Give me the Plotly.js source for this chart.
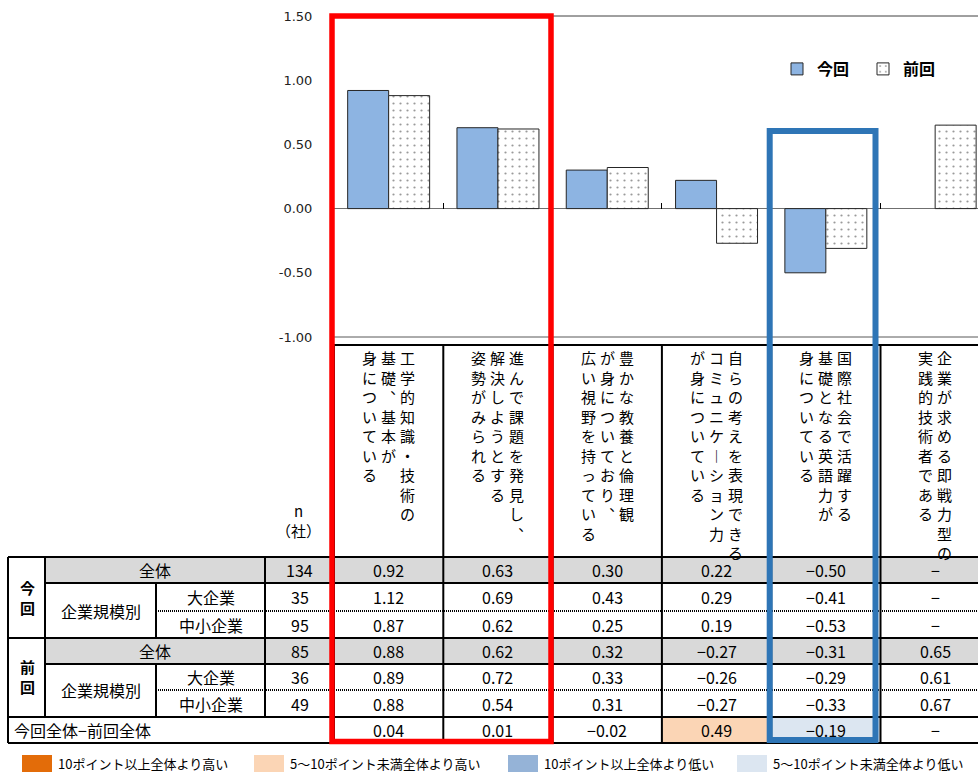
<!DOCTYPE html>
<html><head><meta charset="utf-8">
<script src="https://cdn.plot.ly/plotly-3.0.1.min.js"></script>
<style>html,body{margin:0;padding:0;background:#fff}</style>
</head><body><div id="chart" style="width:978px;height:774px"></div>
<script>
// ---------- data ----------
const categoryLines = [
  ["工学的知識・技術の","基礎、基本が","身についている"],
  ["進んで課題を発見し、","解決しようとする","姿勢がみられる"],
  ["豊かな教養と倫理観","が身についており、","広い視野を持っている"],
  ["自らの考えを表現できる","コミュニケーション力","が身についている"],
  ["国際社会で活躍する","基礎となる英語力が","身についている"],
  ["企業が求める即戦力型の","実践的技術者である"]
];
const categories = categoryLines.map(l => l.join(""));
const seriesNames = ["今回","前回"];
const currentAll    = [0.92, 0.63, 0.30, 0.22, -0.50, null];
const previousAll   = [0.88, 0.62, 0.32, -0.27, -0.31, 0.65];
const currentLarge  = [1.12, 0.69, 0.43, 0.29, -0.41, null];
const currentSmall  = [0.87, 0.62, 0.25, 0.19, -0.53, null];
const previousLarge = [0.89, 0.72, 0.33, -0.26, -0.29, 0.61];
const previousSmall = [0.88, 0.54, 0.31, -0.27, -0.33, 0.67];
const diffAll       = [0.04, 0.01, -0.02, 0.49, -0.19, null];
const nCompanies    = [134, 35, 95, 85, 36, 49];
const yTicks = [-1, -0.5, 0, 0.5, 1, 1.5];
const rowGroupLabels = ["今回","前回"];
const sizeLabel = "企業規模別";
const sizeLabels = ["大企業","中小企業"];
const totalLabel = "全体";
const diffLabel = "今回全体−前回全体";
const nLabel = ["n","（社）"];
const classLabels = ["10ポイント以上全体より高い","5～10ポイント未満全体より高い","10ポイント以上全体より低い","5～10ポイント未満全体より低い"];
const diffClass = [null, null, null, 1, 3, null];

// ---------- styles / geometry ----------
const FONT = "Noto Sans CJK JP";
const classColors = ["#E36C09","#FBD5B5","#95B3D7","#DCE6F1"];
const W=978, H=774, ML=334, MT=16, MB=437;
const PW = W-ML, PH = H-MT-MB;
const COLW = 109.3;
const X_RANGE = [-0.5, -0.5 + PW/COLW];
const Y_RANGE = [-1, 1.5];
const px = x => (x-ML)/PW;
const py = y => (H-MB-y)/PH;
const fmt = v => v == null ? "−" : (v < 0 ? "−" + Math.abs(v).toFixed(2) : v.toFixed(2));

const shapes = [];
const annotations = [];
function hline(y, x0, x1, o={}) {
  shapes.push({type:'line', xref:'paper', yref:'paper', x0:px(x0), x1:px(x1), y0:py(y), y1:py(y),
    line:{color:o.color||'#000', width:o.width||2, dash:o.dash||'solid'}, layer:'above'});
}
function vline(x, y0, y1, o={}) {
  shapes.push({type:'line', xref:'paper', yref:'paper', x0:px(x), x1:px(x), y0:py(y0), y1:py(y1),
    line:{color:o.color||'#000', width:o.width||2}, layer:'above'});
}
function rect(x0, x1, y0, y1, fill) {
  shapes.push({type:'rect', xref:'paper', yref:'paper', x0:px(x0), x1:px(x1), y0:py(y0), y1:py(y1),
    fillcolor:fill, line:{width:0}, layer:'above'});
}
function txt(text, x, y, o={}) {
  annotations.push({text, xref:o.xref||'paper', yref:'paper', x:(o.xref==='x'? x : px(x)), y:py(y),
    xshift:o.xshift||0, showarrow:false, xanchor:o.xanchor||'center', yanchor:o.yanchor||'middle',
    align:'center', font:{family:FONT, size:o.size||16, color:'#000', weight:o.weight||'normal'}});
}

// table row boundaries (px)
const R = [557, 583, 611, 638, 664, 690, 717, 743];
const rowMid = i => (R[i]+R[i+1])/2;
const TL = 8, C1 = 45, C2 = 156, C3 = 265, C4 = 334, TR = 978, HEAD_TOP = 345;

// fills
rect(C1, TR, R[0], R[1], '#D9D9D9');
rect(C1, TR, R[3], R[4], '#D9D9D9');
diffClass.forEach((c, i) => {
  if (c == null) return;
  shapes.push({type:'rect', xref:'x', yref:'paper', x0:i-0.5, x1:i+0.5, y0:py(R[6]), y1:py(R[7]),
    fillcolor:classColors[c], line:{width:0}, layer:'above'});
});

// plot frame lines
hline(MT, ML, W, {width:1, color:'#404040'});
hline(H-MB, ML, W, {width:1, color:'#595959'});

// horizontal table lines
hline(HEAD_TOP, C4, TR);
hline(R[0], TL, TR);
hline(R[1], C1, TR);
hline(R[2], C2, TR, {width:2, dash:'1px,1px'});
hline(R[3], TL, TR);
hline(R[4], C1, TR);
hline(R[5], C2, TR, {width:2, dash:'1px,1px'});
hline(R[6], TL, TR);
hline(R[7], TL, TR);
// vertical table lines
vline(TL, R[0], R[7]);
vline(C1, R[0], R[6]);
vline(C2, R[1], R[3]);
vline(C2, R[4], R[6]);
vline(C3, R[0], R[6]);
vline(C4, HEAD_TOP, R[7]);
categories.forEach((c, i) => {
  if (i === categories.length-1) return;
  shapes.push({type:'line', xref:'x', yref:'paper', x0:i+0.5, x1:i+0.5, y0:py(HEAD_TOP), y1:py(R[7]),
    line:{color:'#000', width:2}, layer:'above'});
});

// highlight boxes
shapes.push({type:'rect', xref:'paper', yref:'paper', x0:px(332), x1:px(551), y0:py(16), y1:py(741.5),
  line:{color:'#FF0000', width:5.5}, fillcolor:'rgba(0,0,0,0)', layer:'above'});
shapes.push({type:'rect', xref:'paper', yref:'paper', x0:px(769.7), x1:px(875.5), y0:py(131), y1:py(740),
  line:{color:'#2E75B6', width:6}, fillcolor:'rgba(0,0,0,0)', layer:'above'});

// vertical header text
const vert = s => Array.from(s).map(ch => ch === '、' ? '︑' : (ch === 'ー' ? '︱' : ch)).join('<br>');
categoryLines.forEach((lines, i) => {
  const n = lines.length;
  lines.forEach((ln, k) => {
    txt(vert(ln), i, 345, {xref:'x', xshift:((n-1)/2 - k)*19, yanchor:'top', size:15});
  });
});
txt(nLabel[0], 298, 511, {size:15});
txt(nLabel[1], 298, 530, {size:15});

// left header of table
txt(rowGroupLabels[0].split('').join('<br>'), 27, 597, {weight:'bold', size:15});
txt(rowGroupLabels[1].split('').join('<br>'), 27, 677, {weight:'bold', size:15});
txt(totalLabel, (C1+C3)/2, rowMid(0));
txt(totalLabel, (C1+C3)/2, rowMid(3));
txt(sizeLabel, (C1+C2)/2, R[2]);
txt(sizeLabel, (C1+C2)/2, R[5]);
txt(sizeLabels[0], (C2+C3)/2, rowMid(1));
txt(sizeLabels[1], (C2+C3)/2, rowMid(2));
txt(sizeLabels[0], (C2+C3)/2, rowMid(4));
txt(sizeLabels[1], (C2+C3)/2, rowMid(5));
nCompanies.forEach((v, r) => txt(String(v), (C3+C4)/2, rowMid(r), {size:16}));
txt(diffLabel, 12, rowMid(6), {xanchor:'left'});

// table values
const tableRows = [currentAll, currentLarge, currentSmall, previousAll, previousLarge, previousSmall, diffAll];
tableRows.forEach((row, r) => {
  row.forEach((v, i) => txt(fmt(v), i, rowMid(r), {xref:'x', size:16}));
});

// bottom colour legend
const boxX = [22, 254, 508, 737];
classLabels.forEach((lab, i) => {
  rect(boxX[i], boxX[i]+30, 755, 772, classColors[i]);
  txt(lab, boxX[i]+34, 763.5, {xanchor:'left', size:13});
});

// ---------- traces ----------
const traces = [
  {type:'bar', name:seriesNames[0], x:categories, y:currentAll,
   marker:{color:'#8DB4E2', line:{color:'#262626', width:1}}, hoverinfo:'skip'},
  {type:'bar', name:seriesNames[1], x:categories, y:previousAll,
   marker:{color:'#FFFFFF', line:{color:'#262626', width:1},
     pattern:{shape:'.', fgcolor:'#9A9A9A', bgcolor:'#FFFFFF', size:7, solidity:0.08}}, hoverinfo:'skip'}
];

const zeroFrac = (0 - Y_RANGE[0])/(Y_RANGE[1]-Y_RANGE[0]);
const layout = {
  width:W, height:H, margin:{l:ML, r:0, t:MT, b:MB},
  paper_bgcolor:'#fff', plot_bgcolor:'#fff',
  barmode:'group', bargap:0.25, bargroupgap:0,
  hovermode:false,
  xaxis:{type:'category', range:X_RANGE, anchor:'free', position:zeroFrac,
    showticklabels:false, ticks:'inside', ticklen:6, tickwidth:1, tickcolor:'#000', tickson:'boundaries',
    showline:false, showgrid:false, zeroline:false, fixedrange:true},
  yaxis:{range:Y_RANGE, tickmode:'array', tickvals:yTicks, ticktext:yTicks.map(v => v.toFixed(2)),
    ticks:'outside', ticklen:18, tickcolor:'rgba(0,0,0,0)', showgrid:false, showline:false,
    zeroline:true, zerolinecolor:'#6F6F6F', zerolinewidth:1,
    tickfont:{family:'DejaVu Sans', size:13, color:'#222'}, fixedrange:true},
  showlegend:true,
  legend:{orientation:'h', x:px(777), xanchor:'left', y:py(69), yanchor:'middle',
    entrywidth:41, entrywidthmode:'pixels', bgcolor:'rgba(0,0,0,0)', traceorder:'normal',
    font:{family:FONT, size:16, color:'#000', weight:'bold'}, itemclick:false, itemdoubleclick:false},
  shapes, annotations
};
Plotly.newPlot('chart', traces, layout, {displayModeBar:false, staticPlot:true});
</script></body></html>
